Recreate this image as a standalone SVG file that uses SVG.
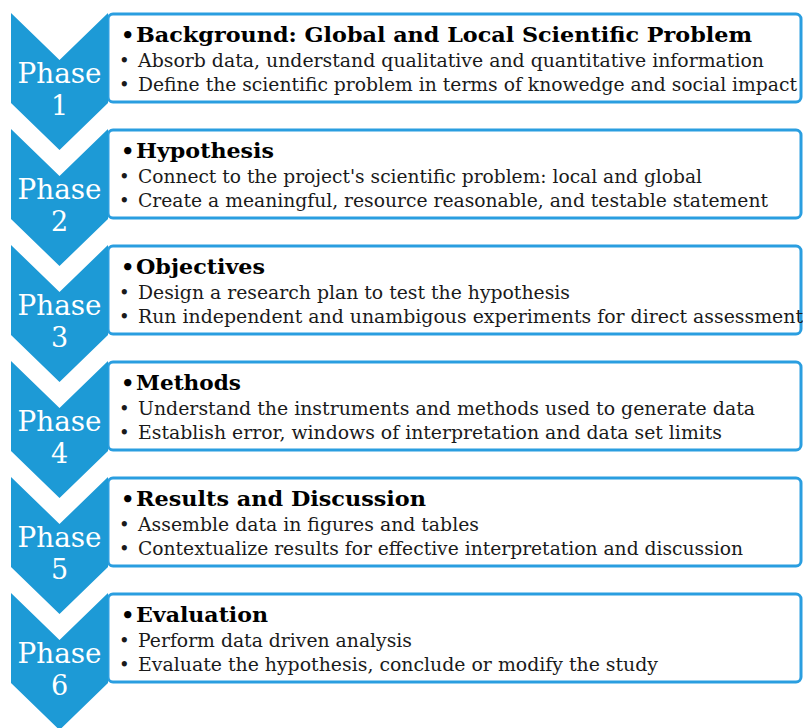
<svg xmlns="http://www.w3.org/2000/svg" width="803" height="728" viewBox="0 0 803 728">
  <style>
    .chev { fill: #1d9ad6; }
    .box { fill: #ffffff; stroke: #2a9ee0; stroke-width: 3; }
    .phase { font-family: "DejaVu Serif", "Liberation Serif", serif; font-size: 27px; fill: #ffffff; text-anchor: middle; }
    .title { font-family: "DejaVu Serif", "Liberation Serif", serif; font-size: 21px; font-weight: bold; fill: #000000; }
    .item { font-family: "DejaVu Serif", "Liberation Serif", serif; font-size: 18px; fill: #1a1a1a; }
  </style>
  <defs>
    <!-- one phase: rounded box plus downward chevron, drawn at y0 = 0 -->
    <rect id="panel" class="box" x="108" y="1" width="693" height="88" rx="5"/>
    <polygon id="chevron" class="chev" points="11,0 59.5,47 108,0 108,90 59.5,137 11,90"/>
  </defs>
  <rect width="803" height="728" fill="#ffffff"/>

  <g id="phase1" transform="translate(0,13)">
    <use href="#panel"/><use href="#chevron"/>
    <text class="phase" x="59.5" y="70" textLength="84" lengthAdjust="spacingAndGlyphs">Phase</text>
    <text class="phase" x="59.5" y="102">1</text>
    <text class="title" x="121" y="29">•</text>
    <text class="title" x="136" y="29" textLength="616" lengthAdjust="spacingAndGlyphs">Background: Global and Local Scientific Problem</text>
    <text class="item" x="119" y="54">•</text>
    <text class="item" x="138" y="54" textLength="626" lengthAdjust="spacingAndGlyphs">Absorb data, understand qualitative and quantitative information</text>
    <text class="item" x="119" y="78">•</text>
    <text class="item" x="138" y="78" textLength="659" lengthAdjust="spacingAndGlyphs">Define the scientific problem in terms of knowedge and social impact</text>
  </g>

  <g id="phase2" transform="translate(0,129)">
    <use href="#panel"/><use href="#chevron"/>
    <text class="phase" x="59.5" y="70" textLength="84" lengthAdjust="spacingAndGlyphs">Phase</text>
    <text class="phase" x="59.5" y="102">2</text>
    <text class="title" x="121" y="29">•</text>
    <text class="title" x="136" y="29" textLength="138" lengthAdjust="spacingAndGlyphs">Hypothesis</text>
    <text class="item" x="119" y="54">•</text>
    <text class="item" x="138" y="54" textLength="564" lengthAdjust="spacingAndGlyphs">Connect to the project's scientific problem: local and global</text>
    <text class="item" x="119" y="78">•</text>
    <text class="item" x="138" y="78" textLength="630" lengthAdjust="spacingAndGlyphs">Create a meaningful, resource reasonable, and testable statement</text>
  </g>

  <g id="phase3" transform="translate(0,245)">
    <use href="#panel"/><use href="#chevron"/>
    <text class="phase" x="59.5" y="70" textLength="84" lengthAdjust="spacingAndGlyphs">Phase</text>
    <text class="phase" x="59.5" y="102">3</text>
    <text class="title" x="121" y="29">•</text>
    <text class="title" x="136" y="29" textLength="129" lengthAdjust="spacingAndGlyphs">Objectives</text>
    <text class="item" x="119" y="54">•</text>
    <text class="item" x="138" y="54" textLength="432" lengthAdjust="spacingAndGlyphs">Design a research plan to test the hypothesis</text>
    <text class="item" x="119" y="78">•</text>
    <text class="item" x="138" y="78" textLength="665" lengthAdjust="spacingAndGlyphs">Run independent and unambigous experiments for direct assessment</text>
  </g>

  <g id="phase4" transform="translate(0,361)">
    <use href="#panel"/><use href="#chevron"/>
    <text class="phase" x="59.5" y="70" textLength="84" lengthAdjust="spacingAndGlyphs">Phase</text>
    <text class="phase" x="59.5" y="102">4</text>
    <text class="title" x="121" y="29">•</text>
    <text class="title" x="136" y="29" textLength="105" lengthAdjust="spacingAndGlyphs">Methods</text>
    <text class="item" x="119" y="54">•</text>
    <text class="item" x="138" y="54" textLength="617" lengthAdjust="spacingAndGlyphs">Understand the instruments and methods used to generate data</text>
    <text class="item" x="119" y="78">•</text>
    <text class="item" x="138" y="78" textLength="584" lengthAdjust="spacingAndGlyphs">Establish error, windows of interpretation and data set limits</text>
  </g>

  <g id="phase5" transform="translate(0,477)">
    <use href="#panel"/><use href="#chevron"/>
    <text class="phase" x="59.5" y="70" textLength="84" lengthAdjust="spacingAndGlyphs">Phase</text>
    <text class="phase" x="59.5" y="102">5</text>
    <text class="title" x="121" y="29">•</text>
    <text class="title" x="136" y="29" textLength="290" lengthAdjust="spacingAndGlyphs">Results and Discussion</text>
    <text class="item" x="119" y="54">•</text>
    <text class="item" x="138" y="54" textLength="341" lengthAdjust="spacingAndGlyphs">Assemble data in figures and tables</text>
    <text class="item" x="119" y="78">•</text>
    <text class="item" x="138" y="78" textLength="605" lengthAdjust="spacingAndGlyphs">Contextualize results for effective interpretation and discussion</text>
  </g>

  <g id="phase6" transform="translate(0,593)">
    <use href="#panel"/><use href="#chevron"/>
    <text class="phase" x="59.5" y="70" textLength="84" lengthAdjust="spacingAndGlyphs">Phase</text>
    <text class="phase" x="59.5" y="102">6</text>
    <text class="title" x="121" y="29">•</text>
    <text class="title" x="136" y="29" textLength="132" lengthAdjust="spacingAndGlyphs">Evaluation</text>
    <text class="item" x="119" y="54">•</text>
    <text class="item" x="138" y="54" textLength="274" lengthAdjust="spacingAndGlyphs">Perform data driven analysis</text>
    <text class="item" x="119" y="78">•</text>
    <text class="item" x="138" y="78" textLength="520" lengthAdjust="spacingAndGlyphs">Evaluate the hypothesis, conclude or modify the study</text>
  </g>
</svg>
